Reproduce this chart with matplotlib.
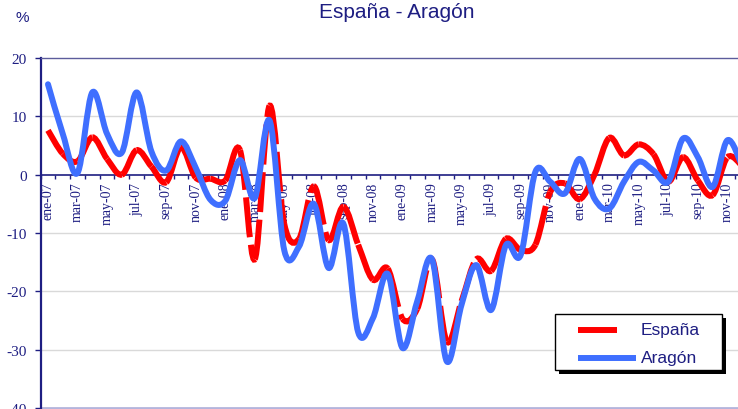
import numpy as np
import matplotlib
matplotlib.use("Agg")
import matplotlib.pyplot as plt
from matplotlib.path import Path
from matplotlib.patches import PathPatch, Rectangle
from matplotlib.lines import Line2D

# Tasa de variación interanual (%), mensual ene-07 a dic-10
meses = ["ene", "feb", "mar", "abr", "may", "jun", "jul", "ago", "sep", "oct", "nov", "dic"]
anios = ["07", "08", "09", "10"]
etiquetas = [f"{m}-{a}" for a in anios for m in meses]

espana = [7.6, 3.6, 2.3, 6.4, 2.7, 0.0, 4.2, 1.4, -1.3, 4.7, -0.5, -0.7,
          -1.0, 4.2, -14.5, 11.8, -8.5, -11.0, -2.0, -11.2, -5.5, -12.0, -18.0, -16.1,
          -24.7, -23.0, -14.5, -28.6, -21.7, -14.5, -16.5, -11.0, -12.9, -12.0, -3.0, -1.5,
          -4.2, 0.0, 6.3, 3.3, 5.2, 3.5, -1.2, 3.0, -1.0, -3.5, 3.0, 1.5]

aragon = [15.5, 7.0, 0.3, 14.1, 7.0, 3.8, 14.1, 4.0, 0.7, 5.7, 1.2, -4.3,
          -4.5, 2.5, -4.0, 9.3, -13.0, -12.3, -5.0, -16.0, -8.4, -27.0, -24.6, -17.0,
          -29.7, -21.7, -14.5, -32.0, -22.3, -15.5, -23.2, -12.1, -13.8, 0.5, -1.2, -3.2,
          2.7, -4.1, -5.8, -1.2, 2.2, 0.7, -1.2, 6.2, 3.0, -2.1, 5.9, 1.5]

NAVY = "#1e1e82"
SERIF = "Liberation Serif"
SANS = "Liberation Sans"
W, H = 738, 410

plt.rcParams["lines.scale_dashes"] = False


def tramos(valores):
    # un tramo bezier por mes, suavizado tipo Excel
    pts = np.column_stack([np.arange(len(valores), dtype=float), np.asarray(valores, float)])
    n = len(pts)
    out = []
    for i in range(n - 1):
        p0 = pts[max(i - 1, 0)]
        p1 = pts[i]
        p2 = pts[i + 1]
        p3 = pts[min(i + 2, n - 1)]
        c1 = p1 + (p2 - p0) / 6
        c2 = p2 - (p3 - p1) / 6
        out.append([p1, c1, c2, p2])
    return out


def curva(valores):
    segs = tramos(valores)
    verts = [segs[0][0]]
    codes = [Path.MOVETO]
    for s in segs:
        verts += s[1:]
        codes += [Path.CURVE4] * 3
    return Path(verts, codes)


fig = plt.figure(figsize=(W / 100, H / 100), dpi=100)
# el eje sigue hasta dic-10, que queda fuera del borde derecho
ax = fig.add_axes([40.6 / W, 1 / H, 48 * 14.77 / W, 350 / H])
ax.set_xlim(-0.5, 47.5)
ax.set_ylim(-40, 20)

for v in [10, -10, -20, -30]:
    ax.axhline(v, color="#d9d9d9", lw=1, zorder=0)
ax.axhline(-40, color="#b4b4dc", lw=2, zorder=1, clip_on=False)

# España: tramos discontinuos
for s in tramos(espana):
    ax.add_patch(PathPatch(Path(s, [Path.MOVETO, Path.CURVE4, Path.CURVE4, Path.CURVE4]),
                           fill=False, edgecolor="#ff0000", lw=4.3,
                           linestyle=(0, (28.8, 5.5)), capstyle="butt", zorder=3))
# Aragón
ax.add_patch(PathPatch(curva(aragon), fill=False, edgecolor="#3f6fff", lw=4.3,
                       capstyle="round", joinstyle="round", zorder=4))

ax.spines["bottom"].set_position(("data", 0))
ax.spines["bottom"].set_color(NAVY)
ax.spines["bottom"].set_linewidth(1.2)
ax.spines["left"].set_color(NAVY)
ax.spines["left"].set_linewidth(1.6)
ax.spines["top"].set_color("#5c5c9c")
ax.spines["top"].set_linewidth(1.0)
ax.spines["right"].set_visible(False)

ax.set_yticks(range(-40, 21, 10))
ax.set_yticklabels([str(v) for v in range(-40, 21, 10)], family=SERIF)
ax.tick_params(axis="y", direction="out", length=4, width=1, color=NAVY,
               labelcolor=NAVY, labelsize=11, pad=6)

ax.set_xticks(np.arange(0, 48, 2))
ax.set_xticklabels(etiquetas[::2], rotation=90, family=SERIF)
ax.set_xticks(np.arange(-0.5, 48, 1), minor=True)
ax.tick_params(axis="x", which="major", length=0, labelcolor=NAVY, labelsize=10, pad=5)
ax.tick_params(axis="x", which="minor", direction="out", length=3, width=1, color=NAVY)

fig.text(397 / W, 1 - 13 / H, "España - Aragón", ha="center", va="center",
         fontsize=15, color=NAVY, family=SANS)
fig.text(22 / W, 1 - 18 / H, "%", ha="center", va="center",
         fontsize=11, color=NAVY, family=SANS)

# leyenda con sombra
def fx(px):
    return px / W


def fy(py):
    return 1 - py / H


fig.add_artist(Rectangle((fx(559), fy(375)), fx(167), 56 / H, transform=fig.transFigure,
                         facecolor="black", edgecolor="none", zorder=9))
fig.add_artist(Rectangle((fx(555), fy(371)), fx(167), 56 / H, transform=fig.transFigure,
                         facecolor="white", edgecolor="black", lw=1, zorder=10))
fig.add_artist(Line2D([fx(578), fx(617)], [fy(331), fy(331)], transform=fig.transFigure,
                      color="#ff0000", lw=4.3, solid_capstyle="butt", zorder=11))
fig.add_artist(Line2D([fx(578), fx(636)], [fy(359), fy(359)], transform=fig.transFigure,
                      color="#3f6fff", lw=4.3, solid_capstyle="butt", zorder=11))
fig.text(fx(641), fy(331), "España", ha="left", va="center", fontsize=12.5,
         color=NAVY, family=SANS, zorder=11)
fig.text(fx(641), fy(359), "Aragón", ha="left", va="center", fontsize=12.5,
         color=NAVY, family=SANS, zorder=11)

fig.savefig("out.png", dpi=100)
